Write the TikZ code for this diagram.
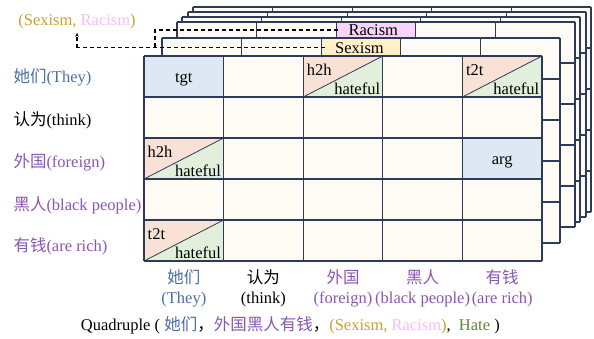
\documentclass[tikz,border=0pt]{standalone}
\usepackage{fontspec}
\setmainfont{Liberation Serif}
\newfontfamily\cjk{Noto Sans CJK SC}
\usetikzlibrary{arrows.meta}
\definecolor{navy}{HTML}{2D3B5B}
\definecolor{cream}{HTML}{FEFAF4}
\definecolor{tblue}{HTML}{DDE8F4}
\definecolor{peach}{HTML}{FAE1D5}
\definecolor{lgreen}{HTML}{E2EFDA}
\definecolor{sexy}{HTML}{FFF0C6}
\definecolor{racy}{HTML}{F9D4F8}
\definecolor{txtblue}{HTML}{4A6EA9}
\definecolor{txtpurple}{HTML}{8A55B5}
\definecolor{gold}{HTML}{C9A030}
\definecolor{pinky}{HTML}{F7BDF2}
\definecolor{hgreen}{HTML}{5A8A3A}
\tikzset{
  gridline/.style={draw=navy, line width=1.1pt},
  diagline/.style={draw=navy, line width=0.8pt},
  dashline/.style={black, line width=1.2pt, dash pattern=on 4pt off 3pt},
  lab/.style={anchor=base west, inner sep=0pt},
  clab/.style={anchor=base, inner sep=0pt},
  celltext/.style={anchor=base, inner sep=0pt},
  tagtext/.style={inner ysep=0pt, inner xsep=10.5pt, text height=11pt, text depth=0pt},
}
\newcommand\stacklayer[2]{%
  \begin{scope}[shift={(#1,#2)}]
    \fill[cream] (144,56) rectangle (542,261);
    \foreach \i in {0,...,5}{\draw[gridline] ({144+79.6*\i},56) -- ({144+79.6*\i},261);}
    \foreach \j in {0,...,5}{\draw[gridline] (144,{56+41*\j}) -- (542,{56+41*\j});}
  \end{scope}}
\newcommand\diagcell[4]{%
  \path ({144+79.6*#2},{56+41*#3}) coordinate (#1-nw) ++(79.6,41) coordinate (#1-se);
  \fill[peach] (#1-nw) -- (#1-nw -| #1-se) -- (#1-se -| #1-nw) -- cycle;
  \fill[lgreen] (#1-nw -| #1-se) -- (#1-se) -- (#1-se -| #1-nw) -- cycle;
  \draw[diagline] (#1-se -| #1-nw) -- (#1-nw -| #1-se);}
\newcommand\diagtext[2]{%
  \node[anchor=base west, inner sep=0pt] (#1-a) at ([shift={(3.5,19.5)}]#1-nw) {#2};
  \node[anchor=base east, inner sep=0pt] (#1-b) at ([shift={(-2.5,-2.3)}]#1-se) {hateful};}
\begin{document}
\begin{tikzpicture}[x=1pt,y=-1pt,font=\fontsize{16.5}{18}\selectfont]
\useasboundingbox (0,0) rectangle (594,338);
% back layers
\stacklayer{49}{-49}
\stacklayer{44}{-44}
\stacklayer{38}{-39}
\stacklayer{33}{-34}
\draw[gridline, fill=racy] (336.2,22) rectangle (415.8,63);
\stacklayer{18}{-18}
\draw[gridline, fill=sexy] (321.2,38) rectangle (400.8,79);
% front layer
\fill[cream] (144,56) rectangle (542,261);
\fill[tblue] (144,56) rectangle (223.6,97);
\fill[tblue] (462.4,138) rectangle (542,179);
\diagcell{c02}{2}{0}{h2h}
\diagcell{c04}{4}{0}{t2t}
\diagcell{c20}{0}{2}{h2h}
\diagcell{c40}{0}{4}{t2t}
\foreach \i in {0,...,5}{\draw[gridline] ({144+79.6*\i},56) -- ({144+79.6*\i},261);}
\foreach \j in {0,...,5}{\draw[gridline] (144,{56+41*\j}) -- (542,{56+41*\j});}
\node[celltext] (tgt) at (183.8,82.5) {tgt};
\node[celltext] (arg) at (502.2,164.5) {arg};
\diagtext{c02}{h2h}
\diagtext{c04}{t2t}
\diagtext{c20}{h2h}
\diagtext{c40}{t2t}
% tags
\node[tagtext] (sexism) at (359.5,47.7) {Sexism};
\node[tagtext] (racism) at (373.3,30) {Racism};
\node[inner sep=0pt, text height=12pt, text depth=4pt] (tags) at (77,21.7)
  {\textcolor{gold}{(Sexism, }\textcolor{pinky}{Racism}\textcolor{gold}{)}};
\coordinate (j1) at (77,47.7);
\coordinate (j2) at (155,30);
\draw[dashline] (sexism.west) -- (j1);
\draw[dashline] (racism.west) -- (j2) -- (j2 |- j1);
\draw[dashline, -{Stealth[length=4pt,width=3.5pt]}, shorten >=3pt] (j1) -- (tags.south);
% row labels
\node[lab, text=txtblue] (r0) at (13.3,82.3) {{\cjk 她们}(They)};
\node[lab] (r1) at (13.3,125.6) {{\cjk 认为}(think)};
\node[lab, text=txtpurple] (r2) at (13.3,167.2) {{\cjk 外国}(foreign)};
\node[lab, text=txtpurple] (r3) at (13.3,210.5) {{\cjk 黑人}(black people)};
\node[lab, text=txtpurple] (r4) at (13.3,251.5) {{\cjk 有钱}(are rich)};
% column labels
\node[clab, text=txtblue] (k0a) at (183.8,283.5) {\cjk 她们};
\node[clab, text=txtblue] (k0b) at (183.8,303.3) {(They)};
\node[clab] (k1a) at (263.4,283.5) {\cjk 认为};
\node[clab] (k1b) at (263.4,303.3) {(think)};
\node[clab, text=txtpurple] (k2a) at (343,283.5) {\cjk 外国};
\node[clab, text=txtpurple] (k2b) at (343,303.3) {(foreign)};
\node[clab, text=txtpurple] (k3a) at (422.6,283.5) {\cjk 黑人};
\node[clab, text=txtpurple] (k3b) at (422.6,303.3) {(black people)};
\node[clab, text=txtpurple] (k4a) at (502.2,283.5) {\cjk 有钱};
\node[clab, text=txtpurple] (k4b) at (502.2,303.3) {(are rich)};
% quadruple
\node[anchor=base west, inner sep=0pt] (quad) at (80.7,330.5) {Quadruple ( \textcolor{txtblue}{\cjk 她们}{\cjk ，}\textcolor{txtpurple}{\cjk 外国黑人有钱}{\cjk ，}\textcolor{gold}{(Sexism, }\textcolor{pinky}{Racism}\textcolor{gold}{)},\ \ \textcolor{hgreen}{Hate} )};
\end{tikzpicture}
\end{document}
